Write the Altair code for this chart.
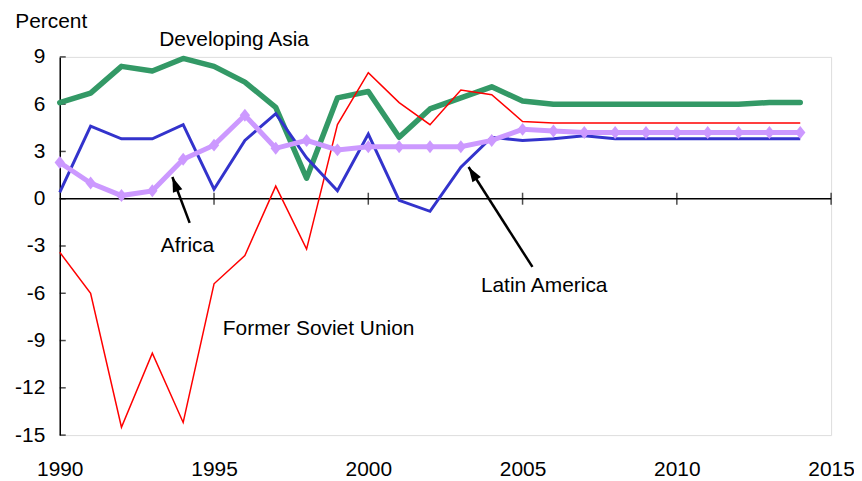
import altair as alt
import pandas as pd

# ---- data ----
years = list(range(1990, 2015))
developing_asia = [6.1, 6.7, 8.4, 8.1, 8.9, 8.4, 7.4, 5.8, 1.3, 6.4, 6.8, 3.9, 5.7,
                   6.4, 7.1, 6.2, 6.0, 6.0, 6.0, 6.0, 6.0, 6.0, 6.0, 6.1, 6.1]
former_soviet_union = [-3.4, -6.0, -14.5, -9.8, -14.2, -5.4, -3.6, 0.8, -3.2, 4.7, 8.0,
                       6.1, 4.7, 6.9, 6.6, 4.9, 4.8, 4.8, 4.8, 4.8, 4.8, 4.8, 4.8, 4.8, 4.8]
latin_america = [0.4, 4.6, 3.8, 3.8, 4.7, 0.6, 3.7, 5.4, 2.6, 0.5, 4.1, -0.1, -0.8,
                 2.0, 3.9, 3.7, 3.8, 4.0, 3.8, 3.8, 3.8, 3.8, 3.8, 3.8, 3.8]
africa = [2.3, 1.0, 0.2, 0.5, 2.5, 3.4, 5.3, 3.2, 3.7, 3.1, 3.3, 3.3, 3.3, 3.3, 3.7,
          4.4, 4.3, 4.2, 4.2, 4.2, 4.2, 4.2, 4.2, 4.2, 4.2]

x_ticks = [1990, 1995, 2000, 2005, 2010, 2015]
y_ticks = [-15, -12, -9, -6, -3, 0, 3, 6, 9]

label_text = ["Developing Asia", "Africa", "Latin America", "Former Soviet Union"]
label_x = [1995.65, 1994.14, 2005.70, 1998.39]
label_y = [9.70, -3.36, -5.89, -8.62]

arrow_names = ["Africa", "Latin America"]
arrow_tail_x = [1994.21, 2005.32]
arrow_tail_y = [-1.53, -4.33]
arrow_tip_x = [1993.65, 2003.25]
arrow_tip_y = [1.38, 2.01]
arrow_angle = [339.3, 327.3]

FONT = "Liberation Sans"
FS = 21

xs = alt.Scale(domain=[1990, 2015], nice=False, zero=False)
ys = alt.Scale(domain=[-15, 9], nice=False, zero=False)

x_axis = alt.Axis(values=x_ticks, title=None, domain=False, ticks=False, grid=False,
                  labelFontSize=FS, labelColor="black", labelFont=FONT,
                  labelBaseline="alphabetic", labelPadding=41, labelFlush=False,
                  labelOverlap=False, labelExpr="'' + datum.value")
y_axis = alt.Axis(values=y_ticks, title="Percent", titleAngle=0, titleX=-9, titleY=-30,
                  titleAlign="center", titleBaseline="alphabetic", titleFontWeight="normal",
                  titleFontSize=FS, titleColor="black", titleFont=FONT,
                  labelFontSize=FS, labelColor="black", labelFont=FONT, labelPadding=15,
                  ticks=False, grid=False, domainColor="black", domainWidth=1.5,
                  labelExpr="'' + datum.value")


def X():
    return alt.X("year:Q", scale=xs, axis=x_axis)


def Y():
    return alt.Y("value:Q", scale=ys, axis=y_axis)


def series_df(vals):
    return pd.DataFrame({"year": years, "value": vals})


# zero line with crossing ticks
zero_df = pd.DataFrame({"year": [x_ticks[0]], "year2": [x_ticks[-1]], "value": [0]})
zero_line = alt.Chart(zero_df).mark_rule(color="black", strokeWidth=1.5).encode(
    x=X(), x2="year2:Q", y=Y())
zero_ticks_df = pd.DataFrame({"year": x_ticks[1:], "value": [0] * (len(x_ticks) - 1)})
zero_ticks = alt.Chart(zero_ticks_df).mark_tick(orient="vertical", size=12, thickness=1.5,
                                                 color="black").encode(x=X(), y=Y())
ytick_df = pd.DataFrame({"year": [x_ticks[0]] * len(y_ticks), "value": y_ticks})
y_inner_ticks = alt.Chart(ytick_df).mark_tick(orient="horizontal", size=6, thickness=1.5,
                                               xOffset=3, color="black").encode(x=X(), y=Y())

green = alt.Chart(series_df(developing_asia)).mark_line(
    color="#339966", strokeWidth=5.5, strokeJoin="round", strokeCap="round").encode(x=X(), y=Y())
red = alt.Chart(series_df(former_soviet_union)).mark_line(
    color="#FF0000", strokeWidth=1.5).encode(x=X(), y=Y())
blue = alt.Chart(series_df(latin_america)).mark_line(
    color="#3333CC", strokeWidth=3).encode(x=X(), y=Y())
purple = alt.Chart(series_df(africa)).mark_line(
    color="#CC99FF", strokeWidth=5).encode(x=X(), y=Y())
purple_pts = alt.Chart(series_df(africa)).mark_point(
    shape="M-0.8,0L0,-1L0.8,0L0,1Z", filled=True, size=169, opacity=1,
    color="#CC99FF").encode(x=X(), y=Y())

labels_df = pd.DataFrame({"text": label_text, "year": label_x, "value": label_y})
labels = alt.Chart(labels_df).mark_text(font=FONT, fontSize=FS, align="center",
                                        baseline="alphabetic", color="black").encode(
    x=X(), y=Y(), text="text:N")

arrows_df = pd.DataFrame({"name": arrow_names, "year": arrow_tail_x, "value": arrow_tail_y,
                          "year2": arrow_tip_x, "value2": arrow_tip_y})
arrow_lines = alt.Chart(arrows_df).mark_rule(color="black", strokeWidth=2.5).encode(
    x=X(), y=Y(), x2="year2:Q", y2="value2:Q")
heads_df = pd.DataFrame({"name": arrow_names, "year": arrow_tip_x, "value": arrow_tip_y,
                         "angle": arrow_angle})
arrow_heads = alt.Chart(heads_df).mark_point(
    shape="M0,0L0.67,2L-0.67,2Z", filled=True, size=225, opacity=1, color="black").encode(
    x=X(), y=Y(), angle=alt.Angle("angle:Q", scale=None))

chart = alt.layer(zero_line, zero_ticks, y_inner_ticks, green, red, blue, purple, purple_pts,
                  labels, arrow_lines, arrow_heads).properties(
    width=775, height=380,
    autosize=alt.AutoSizeParams(type="none"),
    padding={"left": 52, "top": 48, "right": 23, "bottom": 45},
).configure_view(stroke=None).configure(font=FONT, background="white")

chart.save("out.html", embed_options={"renderer": "svg", "actions": False})
